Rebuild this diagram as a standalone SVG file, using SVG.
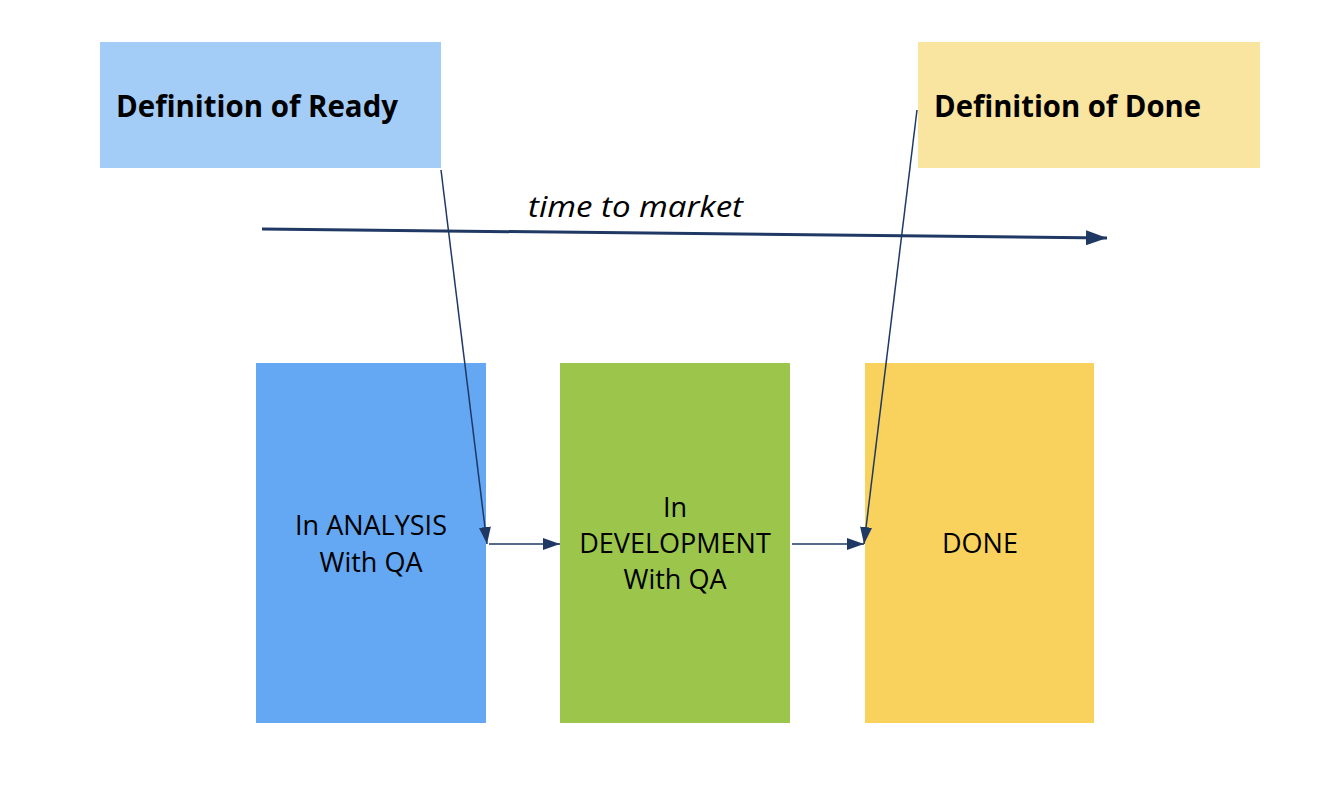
<svg xmlns="http://www.w3.org/2000/svg" width="1326" height="808" viewBox="0 0 1326 808">
<style>
.t{font-family:"Open Sans","Noto Sans","Liberation Sans",sans-serif;fill:#000}
.h{font-size:31px;font-weight:bold}
.b{font-size:27px;text-anchor:middle}
.c{stroke:#1f3864;fill:none}
</style>
<defs>
<marker id="ah" viewBox="0 0 17 12" refX="17" refY="6" markerWidth="17" markerHeight="12" markerUnits="userSpaceOnUse" orient="auto"><path d="M0,0L17,6L0,12z" fill="#1f3864"/></marker>
<marker id="ahb" viewBox="0 0 21 15" refX="21" refY="7.5" markerWidth="21" markerHeight="15" markerUnits="userSpaceOnUse" orient="auto"><path d="M0,0L21,7.5L0,15z" fill="#1f3864"/></marker>
</defs>
<rect width="1326" height="808" fill="#fff"/>
<g id="dor"><rect x="100" y="42" width="341" height="126" fill="#a3cdf7"/><text class="t h" x="116" y="117" textLength="282" lengthAdjust="spacingAndGlyphs">Definition of Ready</text></g>
<g id="dod"><rect x="918" y="42" width="342" height="126" fill="#f9e4a0"/><text class="t h" x="934" y="117" textLength="267" lengthAdjust="spacingAndGlyphs">Definition of Done</text></g>
<g id="analysis"><rect x="256" y="363" width="230" height="360" fill="#64a7f2"/><text class="t b" x="371" y="535">In ANALYSIS</text><text class="t b" x="371" y="572">With QA</text></g>
<g id="development"><rect x="560" y="363" width="230" height="360" fill="#9bc64b"/><text class="t b" x="675" y="517">In</text><text class="t b" x="675" y="553">DEVELOPMENT</text><text class="t b" x="675" y="589">With QA</text></g>
<g id="done"><rect x="865" y="363" width="229" height="360" fill="#f8d25c"/><text class="t b" x="980" y="553">DONE</text></g>
<g id="connectors">
<line class="c" x1="262" y1="229" x2="1107" y2="238" stroke-width="3" marker-end="url(#ahb)"/>
<text class="t" x="528" y="217" font-size="30" font-style="italic" textLength="215" lengthAdjust="spacingAndGlyphs">time to market</text>
<line class="c" x1="441" y1="170" x2="487" y2="544" stroke-width="1.5" marker-end="url(#ah)"/>
<line class="c" x1="917" y1="110" x2="864" y2="544" stroke-width="1.5" marker-end="url(#ah)"/>
<line class="c" x1="489" y1="544" x2="560" y2="544" stroke-width="1.5" marker-end="url(#ah)"/>
<line class="c" x1="792" y1="544" x2="864" y2="544" stroke-width="1.5" marker-end="url(#ah)"/>
</g>
</svg>
